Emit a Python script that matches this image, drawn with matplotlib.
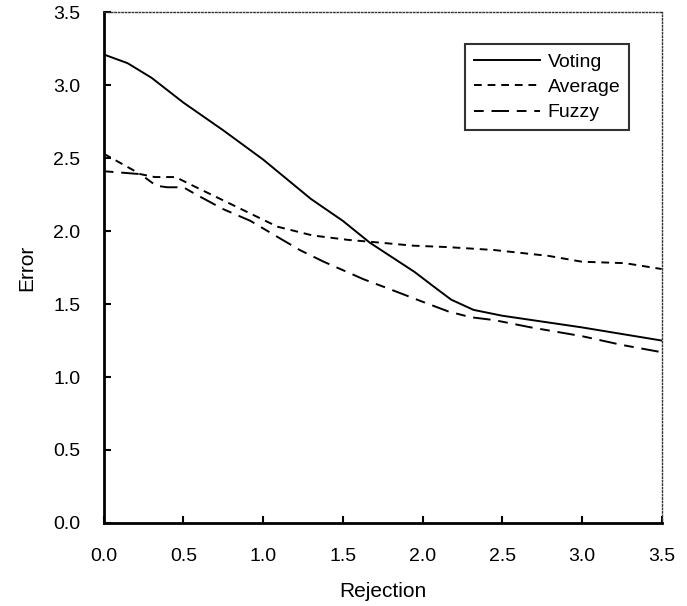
import matplotlib.pyplot as plt

plt.rcParams['font.family'] = ['Liberation Sans', 'DejaVu Sans']

# ---------- data ----------------------------------------------------------
voting_x = [0.0, 0.15, 0.3, 0.5, 0.75, 1.0, 1.3, 1.5, 1.67, 1.95, 2.07, 2.18,
            2.32, 2.5, 3.0, 3.5]
voting_y = [3.21, 3.15, 3.05, 2.88, 2.69, 2.49, 2.22, 2.07, 1.92, 1.72, 1.62,
            1.53, 1.46, 1.42, 1.34, 1.25]

average_x = [0.0, 0.23, 0.32, 0.45, 0.58, 0.75, 0.92, 1.09, 1.31, 1.53,
             1.74, 1.94, 2.16, 2.45, 2.79, 3.0, 3.27, 3.5]
average_y = [2.53, 2.39, 2.37, 2.37, 2.30, 2.21, 2.12, 2.03, 1.97, 1.94,
             1.92, 1.90, 1.89, 1.87, 1.83, 1.79, 1.78, 1.74]

fuzzy_x = [0.0, 0.23, 0.33, 0.4, 0.5, 0.58, 0.75, 0.92, 1.09, 1.23, 1.38,
           1.63, 1.80, 1.99, 2.16, 2.30, 2.45, 2.68, 3.0, 3.25, 3.5]
fuzzy_y = [2.41, 2.39, 2.31, 2.30, 2.30, 2.25, 2.15, 2.07, 1.96, 1.87, 1.79,
           1.67, 1.60, 1.52, 1.45, 1.41, 1.39, 1.34, 1.28, 1.22, 1.17]

ticks = [0.0, 0.5, 1.0, 1.5, 2.0, 2.5, 3.0, 3.5]

# ---------- figure ---------------------------------------------------------
fig = plt.figure(figsize=(6.87, 6.06), dpi=100)
ax = fig.add_axes([0.151, 0.137, 0.812, 0.843])

ax.plot(voting_x, voting_y, color='black', lw=1.4, ls='-', label='Voting')
ax.plot(average_x, average_y, color='black', lw=1.4, ls=(0, (4, 3)),
        label='Average')
ax.plot(fuzzy_x, fuzzy_y, color='black', lw=1.4, ls=(0, (5, 4, 9, 4)),
        label='Fuzzy')

ax.set_xlim(0, 3.5)
ax.set_ylim(0, 3.5)
ax.set_xticks(ticks)
ax.set_yticks(ticks)
ax.set_xticklabels([f"{t:.1f}" for t in ticks])
ax.set_yticklabels([f"{t:.1f}" for t in ticks])
ax.tick_params(direction='in', length=5, width=1.5, labelsize=14)
ax.tick_params(axis='y', pad=17)
ax.tick_params(axis='x', pad=18)

for side in ('left', 'bottom'):
    ax.spines[side].set_linewidth(2)
for side in ('top', 'right'):
    ax.spines[side].set_linestyle((0, (1, 1.5)))
    ax.spines[side].set_linewidth(1.0)
    ax.spines[side].set_color('#333333')

ax.set_xlabel('Rejection', fontsize=15, labelpad=12)
ax.set_ylabel('Error', fontsize=15, labelpad=12)

leg = ax.legend(loc='upper right', bbox_to_anchor=(0.942, 0.937), fontsize=14,
                frameon=True, fancybox=False, handlelength=3.4,
                borderpad=0.45, labelspacing=0.4, handletextpad=0.4,
                borderaxespad=0)
leg.get_frame().set_edgecolor('black')
leg.get_frame().set_linewidth(1.5)

fig.savefig('out.png', dpi=100)
